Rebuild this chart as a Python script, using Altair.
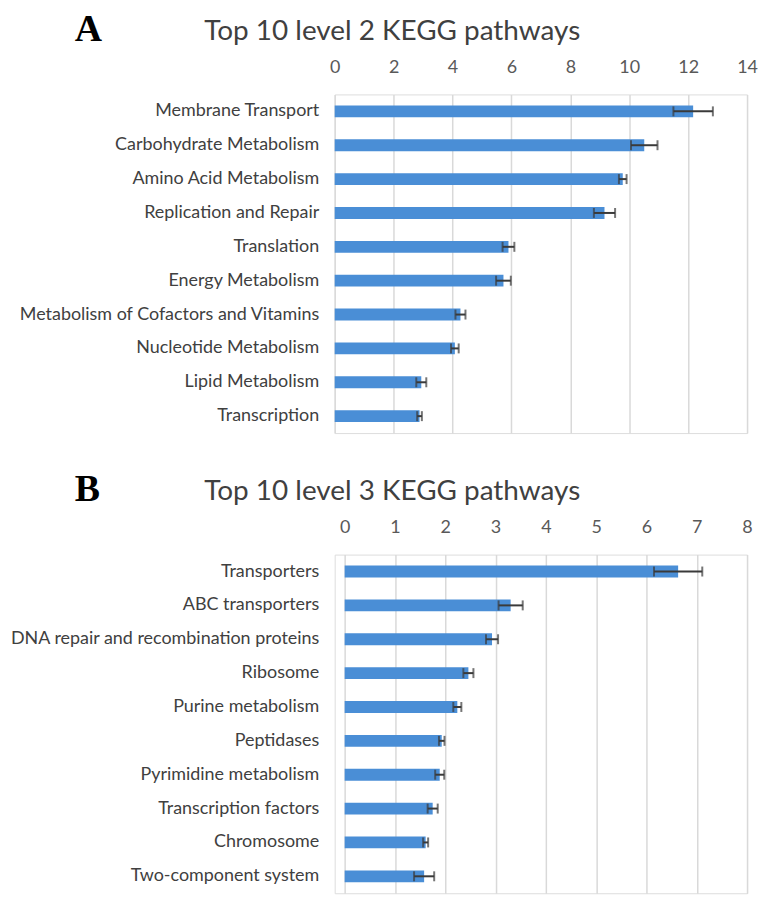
import altair as alt
import pandas as pd

# ---- Panel A data (level 2 KEGG pathways) ----
cat_a = [
    "Membrane Transport",
    "Carbohydrate Metabolism",
    "Amino Acid Metabolism",
    "Replication and Repair",
    "Translation",
    "Energy Metabolism",
    "Metabolism of Cofactors and Vitamins",
    "Nucleotide Metabolism",
    "Lipid Metabolism",
    "Transcription",
]
val_a = [12.17, 10.51, 9.78, 9.16, 5.90, 5.73, 4.27, 4.08, 2.94, 2.88]
err_a = [0.67, 0.45, 0.13, 0.36, 0.20, 0.25, 0.17, 0.13, 0.17, 0.08]
ticks_a = [0, 2, 4, 6, 8, 10, 12, 14]

# ---- Panel B data (level 3 KEGG pathways) ----
cat_b = [
    "Transporters",
    "ABC transporters",
    "DNA repair and recombination proteins",
    "Ribosome",
    "Purine metabolism",
    "Peptidases",
    "Pyrimidine metabolism",
    "Transcription factors",
    "Chromosome",
    "Two-component system",
]
val_b = [6.63, 3.30, 2.93, 2.46, 2.24, 1.93, 1.89, 1.75, 1.61, 1.58]
err_b = [0.48, 0.24, 0.12, 0.10, 0.08, 0.055, 0.09, 0.10, 0.05, 0.20]
ticks_b = [0, 1, 2, 3, 4, 5, 6, 7, 8]

BAR = "#4a8ed6"
ERR = "#3a3a3a"
FONT = "Lato"


def panel(cats, vals, errs, ticks, letter, title, width, height, x_range,
          letter_xy, title_xy):
    df = pd.DataFrame({"cat": cats, "val": vals, "err": errs})
    df["lo"] = df["val"] - df["err"]
    df["hi"] = df["val"] + df["err"]
    base = alt.Chart(df)

    xscale = alt.Scale(domain=[ticks[0], ticks[-1]], nice=False, zero=True,
                       range=x_range)
    xaxis = alt.Axis(
        orient="top", values=ticks, title=None, grid=True,
        gridColor="#d9d9d9", gridWidth=1.5, domain=False, ticks=False,
        labelFont=FONT, labelFontSize=18, labelColor="#595959",
        labelPadding=18, labelFlush=False,
    )
    yenc = alt.Y(
        "cat:N", sort=cats,
        scale=alt.Scale(paddingInner=0.65, paddingOuter=0.325),
        axis=alt.Axis(
            title=None, labelFont=FONT, labelFontSize=18,
            labelColor="#404040", labelPadding=16, ticks=False,
            domain=False, grid=False, minExtent=325,
            labelLimit=500,
        ),
    )

    bars = base.mark_bar(color=BAR).encode(
        x=alt.X("val:Q", scale=xscale, axis=xaxis), y=yenc
    )
    rule = base.mark_rule(color=ERR, strokeWidth=2).encode(
        x=alt.X("lo:Q", scale=xscale, axis=xaxis), x2="hi:Q", y=yenc
    )
    cap_lo = base.mark_tick(color=ERR, thickness=2, size=10).encode(
        x=alt.X("lo:Q", scale=xscale, axis=xaxis), y=yenc
    )
    cap_hi = base.mark_tick(color=ERR, thickness=2, size=10).encode(
        x=alt.X("hi:Q", scale=xscale, axis=xaxis), y=yenc
    )

    lab = pd.DataFrame({"letter": [letter], "title": [title]})
    letter_mark = alt.Chart(lab).mark_text(
        font="Liberation Serif", fontWeight="bold", fontSize=38,
        align="left", baseline="top", color="#000000",
    ).encode(text="letter:N", x=alt.value(letter_xy[0]), y=alt.value(letter_xy[1]))
    title_mark = alt.Chart(lab).mark_text(
        font=FONT, fontSize=28, align="left", baseline="top",
        color="#404040",
    ).encode(text="title:N", x=alt.value(title_xy[0]), y=alt.value(title_xy[1]))

    return alt.layer(bars, rule, cap_lo, cap_hi, letter_mark, title_mark).properties(
        width=width, height=height
    )


chart_a = panel(cat_a, val_a, err_a, ticks_a, "A", "Top 10 level 2 KEGG pathways",
                414, 340, [0, 414], (-261, -84), (-131, -77))
chart_b = panel(cat_b, val_b, err_b, ticks_b, "B", "Top 10 level 3 KEGG pathways",
                414, 340, [10, 414], (-261, -84), (-131, -77))

chart = alt.vconcat(chart_a, chart_b, spacing=36).properties(
    padding={"left": 0, "top": 0, "right": 0, "bottom": 0}
).configure_view(stroke=None).configure(background="white")

chart.save("out.html", embed_options={"renderer": "svg", "actions": False})
